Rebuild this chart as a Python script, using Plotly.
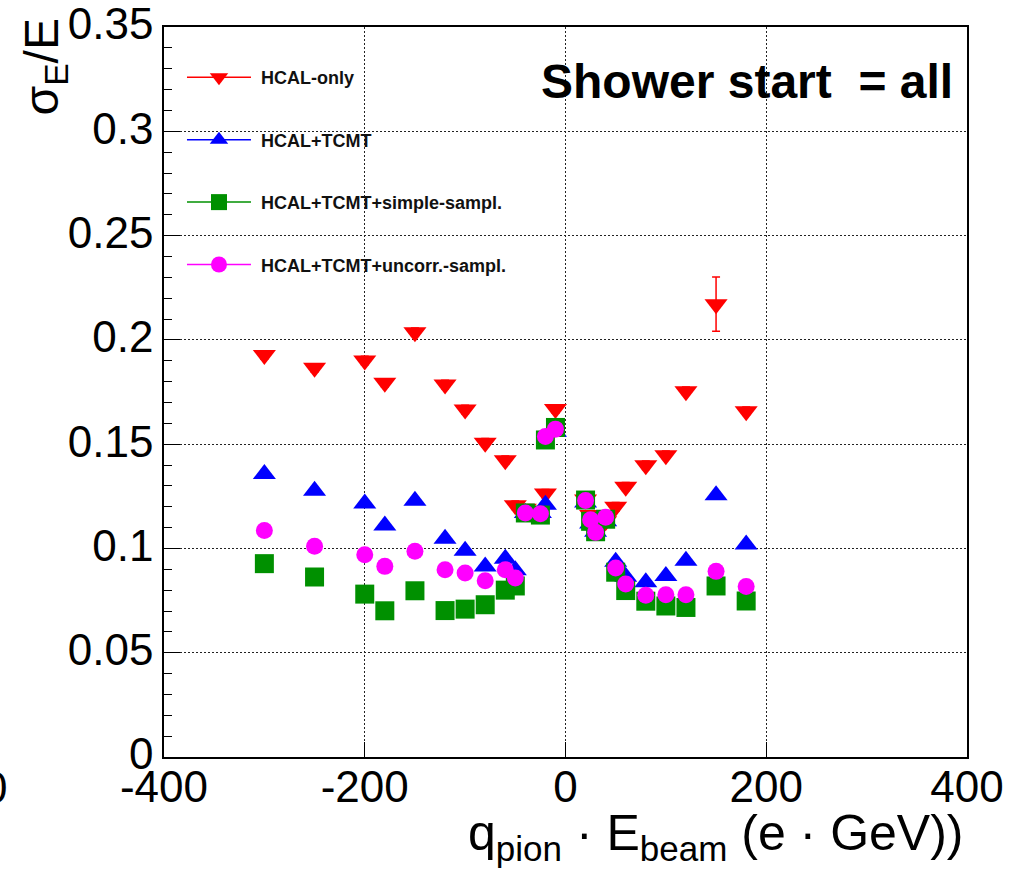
import plotly.graph_objects as go

# ---------------- data ----------------
x_neg = [-300, -250, -200, -180, -150, -120, -100, -80, -60, -50, -40, -25, -20, -10]
x_pos = [20, 25, 30, 40, 50, 60, 80, 100, 120, 150, 180]

hcal_neg = [0.1927, 0.1866, 0.1901, 0.1794, 0.2037, 0.1786, 0.1666, 0.1507, 0.1423, 0.1207, 0.119, 0.118, 0.1263, 0.1668]
hcal_pos = [0.1235, 0.116, 0.109, 0.113, 0.120, 0.1296, 0.1399, 0.1447, 0.1754, 0.2171, 0.1658]
hcal_err_neg = [0.002] * 14
hcal_err_pos = [0.002, 0.002, 0.002, 0.002, 0.002, 0.002, 0.002, 0.002, 0.002, 0.013, 0.002]

tcmt_neg = [0.1357, 0.1277, 0.1215, 0.1110, 0.1229, 0.1047, 0.0989, 0.0913, 0.0951, 0.0895, 0.117, 0.117, 0.121, 0.156]
tcmt_pos = [0.122, 0.112, 0.108, 0.113, 0.0936, 0.0864, 0.0838, 0.0868, 0.0941, 0.1255, 0.1019]

simple_neg = [0.0927, 0.0863, 0.0781, 0.0701, 0.0797, 0.0702, 0.0709, 0.0730, 0.080, 0.082, 0.117, 0.116, 0.152, 0.158]
simple_pos = [0.1232, 0.113, 0.108, 0.114, 0.0886, 0.0798, 0.0747, 0.0724, 0.0717, 0.0820, 0.0748]

uncorr_neg = [0.1086, 0.1010, 0.0970, 0.0914, 0.0986, 0.0898, 0.0882, 0.0845, 0.0898, 0.0858, 0.117, 0.1166, 0.1537, 0.1572]
uncorr_pos = [0.123, 0.1138, 0.1077, 0.1149, 0.0906, 0.0829, 0.0775, 0.0778, 0.0778, 0.0890, 0.0818]

series_names = ["HCAL-only", "HCAL+TCMT", "HCAL+TCMT+simple-sampl.", "HCAL+TCMT+uncorr.-sampl."]
x_ticks = [-400, -200, 0, 200, 400]
x_tick_text = ["-400", "-200", "0", "200", "400"]
y_ticks = [0, 0.05, 0.1, 0.15, 0.2, 0.25, 0.3, 0.35]
y_tick_text = ["0", "0.05", "0.1", "0.15", "0.2", "0.25", "0.3", "0.35"]

# ---------------- styling ----------------
FONT = "Liberation Sans, Arial, sans-serif"
RED, BLUE, GREEN, MAG = "#ff0000", "#0000ff", "#009000", "#ff00ff"

xs = x_neg + x_pos
series = [
    (series_names[0], hcal_neg + hcal_pos, RED, "triangle-down", 20, hcal_err_neg + hcal_err_pos),
    (series_names[1], tcmt_neg + tcmt_pos, BLUE, "triangle-up", 20, None),
    (series_names[2], simple_neg + simple_pos, GREEN, "square", 19, None),
    (series_names[3], uncorr_neg + uncorr_pos, MAG, "circle", 17, None),
]

fig = go.Figure()
for i, (name, ys, col, sym, sz, err) in enumerate(series):
    kw = {}
    if err is not None:
        kw["error_y"] = dict(type="data", array=err, visible=True, color=col, thickness=1.5, width=4)
    fig.add_trace(go.Scatter(
        x=xs, y=ys, mode="markers", name=name, showlegend=False,
        marker=dict(symbol=sym, size=sz, color=col, line=dict(width=0)),
        cliponaxis=False, **kw))
# legend-only entries (line + marker, like ROOT "lp")
for i, (name, ys, col, sym, sz, err) in enumerate(series):
    fig.add_trace(go.Scatter(
        x=[None], y=[None], mode="lines+markers",
        name="\u00a0<b>" + name + "</b>",
        legendgroup="g%d" % i, showlegend=True,
        line=dict(color=col, width=1.5),
        marker=dict(symbol=sym, size=16, color=col, line=dict(width=0))))

axis_common = dict(
    showline=True, linecolor="black", linewidth=1.5, mirror=True,
    ticks="inside", tickcolor="black", tickwidth=1.2,
    showgrid=True, gridcolor="#222", gridwidth=1, griddash="2px,2px",
    zeroline=False, automargin=False,
    tickfont=dict(family=FONT, size=44, color="black"),
)

fig.update_xaxes(range=[-400, 400], tickvals=x_ticks, ticktext=x_tick_text, ticklen=15,
                 ticklabelstandoff=-10, **axis_common)
fig.update_yaxes(range=[0, 0.35], tickvals=y_ticks, ticktext=y_tick_text, ticklen=16,
                 ticklabelshift=-3, ticklabeloverflow="allow",
                 minor=dict(dtick=0.01, ticks="inside", ticklen=8, tickcolor="black", showgrid=False),
                 **axis_common)

# white legend box (covers the grid, like the ROOT TLegend)
fig.add_shape(type="rect", xref="paper", yref="paper", x0=0.012, x1=0.4595, y0=0.6403, y1=0.9756,
              fillcolor="white", line=dict(width=0), layer="between")

fig.update_layout(
    width=1024, height=884,
    margin=dict(l=164, r=57, t=27, b=127, autoexpand=False),
    plot_bgcolor="white", paper_bgcolor="white",
    showlegend=True,
    legend=dict(x=0.0224, y=0.956, xanchor="left", yanchor="top",
                bgcolor="rgba(0,0,0,0)", borderwidth=0,
                font=dict(family=FONT, size=18, color="#111"),
                itemwidth=64, tracegroupgap=36, traceorder="grouped"),
    annotations=[
        dict(text="<b>Shower start\u00a0 = all</b>", xref="paper", yref="paper",
             x=0.985, y=0.925, xanchor="right", yanchor="middle", showarrow=False,
             font=dict(family=FONT, size=48, color="black")),
        dict(text="σ<sub>E</sub>/E", xref="paper", yref="paper",
             x=-0.148, y=1.014, xanchor="center", yanchor="top", textangle=-90, showarrow=False,
             font=dict(family=FONT, size=48, color="black")),
        dict(text="q<sub>pion</sub> · E<sub>beam</sub> (e · GeV))", xref="paper", yref="paper",
             x=0.998, y=-0.063, xanchor="right", yanchor="top", showarrow=False,
             font=dict(family=FONT, size=50, color="black")),
        dict(text="0", xref="paper", yref="paper",
             x=-0.21, y=-0.005, xanchor="center", yanchor="top", showarrow=False,
             font=dict(family=FONT, size=44, color="black")),
    ],
)

fig.write_html("out.html")
